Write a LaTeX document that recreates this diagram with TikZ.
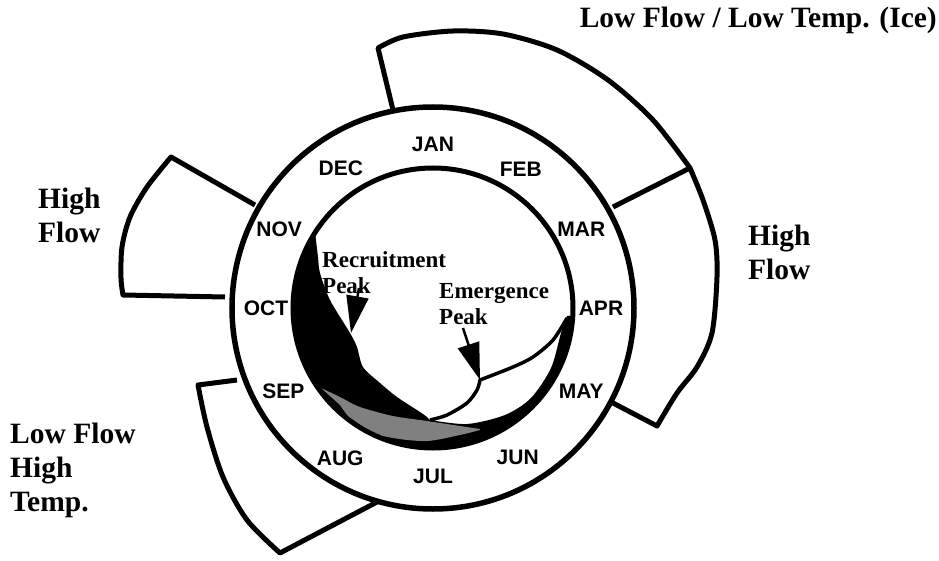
\documentclass[tikz,border=0pt]{standalone}
\usepackage{fontspec}
\setmainfont{Liberation Serif}
\setsansfont{Liberation Sans}
\usetikzlibrary{arrows.meta}

\tikzset{
  band/.style={line width=5pt, line join=round},
  month/.style={font=\sffamily\bfseries\fontsize{21}{24}\selectfont, inner sep=0pt},
  season/.style={font=\bfseries\fontsize{29.5}{34}\selectfont, align=left, inner sep=0pt},
  peaklabel/.style={font=\bfseries\fontsize{23}{26}\selectfont, align=left, inner sep=0pt},
  peakarrow/.style={line width=2.5pt, -{Triangle[length=37pt,width=22pt]}}
}

\begin{document}
\begin{tikzpicture}[x=1pt,y=1pt]
            \useasboundingbox (-433,-252) rectangle (506,308);
            % Bands outside the year ring
            \draw[band] (-40,198) -- plot[smooth] coordinates {(-55,260) (-30,271) (20,277) (70,274) (124,258) (175,228) (220,188) (257,140)};
            \draw[band] (180,101) -- plot[smooth] coordinates {(257,140) (270,108) (282,68) (284,31) (279,-25) (264,-59) (244,-85) (224,-118)} -- (180,-95);
            \draw[band] (-178,103) -- plot[smooth] coordinates {(-262,151) (-286,121) (-303,91) (-311,61) (-312,30) (-310,13)} -- (-208,11);
            \draw[band] (-196,-72) -- plot[smooth] coordinates {(-235,-77) (-226,-119) (-210,-169) (-186,-212) (-153,-245)} -- (-56,-194);

            % Black and shaded areas inside the inner circle
            \fill[black] (146:140) arc[start angle=146, end angle=357, radius=140]
                -- plot[smooth] coordinates {(134,-8) (128,-25) (118,-60) (98,-90) (72,-107) (34,-116) (-3,-112)}
                -- plot[smooth] coordinates {(-6,-109) (-13,-104) (-36,-89) (-53,-75) (-70,-59) (-76,-39) (-83,-25) (-103,8) (-113,35) (-115,51) (-118,76)}
                -- cycle;
            \fill[black!50] plot[smooth] coordinates {(-112,-80) (-93,-89) (-73,-99) (-40,-108) (-6,-113) (27,-118) (47,-121)}
                -- plot[smooth] coordinates {(47,-122) (27,-127) (-6,-133) (-40,-130) (-73,-121) (-93,-97)} -- cycle;
            \draw[line width=3.5pt, line join=round] plot[smooth] coordinates {(134,-10) (120,-32) (100,-49) (80,-59) (47,-72)}
                -- plot[smooth] coordinates {(47,-72) (44,-82) (34,-95) (14,-107) (-3,-112)};

            % Year ring
            \draw[line width=5.5pt] (0,0) circle[radius=201];
            \draw[line width=5pt] (0,0) circle[radius=140];
            \foreach \m/\a/\r in {JAN/90/164, FEB/57.7/164.5, MAR/28/168, APR/0/168, MAY/-29.3/170, JUN/-60.5/172,
                                  JUL/-90/168, AUG/-121.6/177, SEP/-151/171, OCT/180/167, NOV/152.8/173, DEC/123.5/167}
                \node[month] (\m) at (\a:\r) {\m};

            % Peaks
            \node[peaklabel, anchor=north west] (recruit) at (-111,57) {Recruitment\\Peak};
            \node[peaklabel, anchor=north west] (emerge) at (6,25) {Emergence\\Peak};
            \coordinate (rtail) at (-74,20);
            \coordinate (rpeak) at (-82,-25);
            \coordinate (etail) at (30,-20);
            \coordinate (epeak) at (47,-72);
            \draw[peakarrow] (rtail) -- (rpeak);
            \draw[peakarrow] (etail) -- (epeak);

            % Season labels
            \node[season, anchor=base east] (ice) at (504,280) {Low Flow / Low Temp. (Ice)};
            \node[season, anchor=north west] (highleft) at (-395,120) {High\\Flow};
            \node[season, anchor=north west] (highright) at (315,83) {High\\Flow};
            \node[season, anchor=north west] (lowhigh) at (-423,-115) {Low Flow\\High\\Temp.};
        \end{tikzpicture}
\end{document}
